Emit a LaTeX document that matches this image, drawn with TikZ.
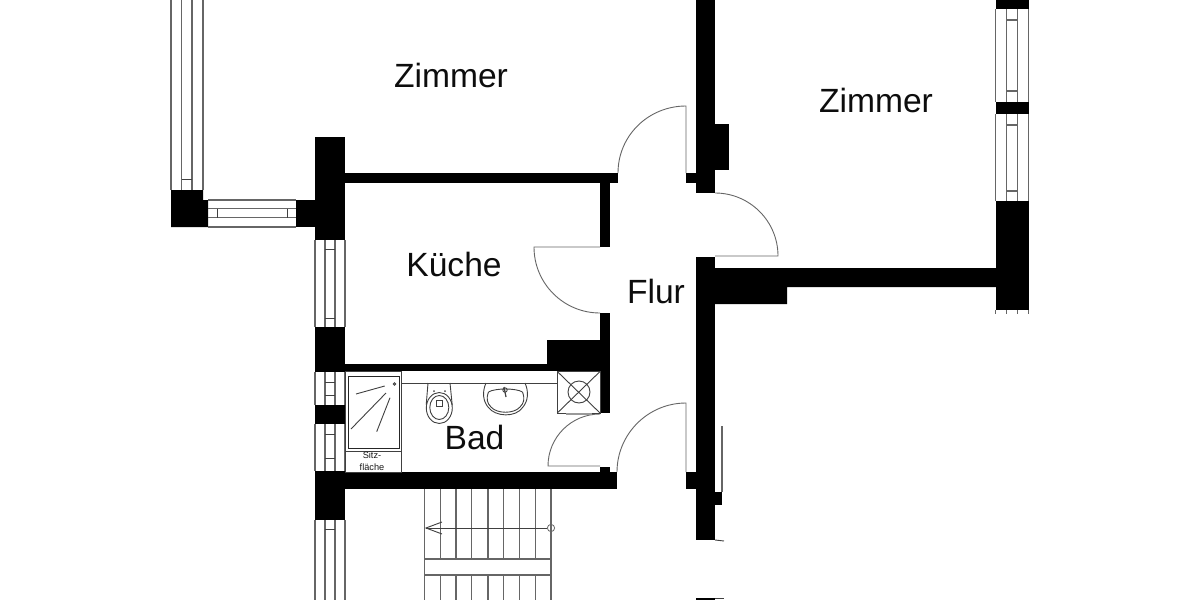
\documentclass[tikz,border=0pt]{standalone}
\usepackage{fontspec}
\setmainfont{Liberation Sans}
\tikzset{
  wall/.style={fill=black,draw=none},
  thin line/.style={draw=black!60,line width=0.55pt},
  fine line/.style={draw=black!75,line width=0.45pt},
  door/.style={draw=black!60,line width=0.45pt},
  room/.style={font=\fontsize{16.8}{18}\selectfont,text=black!95,inner sep=0pt},
  tiny label/.style={font=\fontsize{4.6}{5}\selectfont,text=black!90,inner sep=0pt,align=center},
}
\begin{document}
\begin{tikzpicture}[x=0.5pt,y=-0.5pt]
\path[use as bounding box,fill=white] (0,0) rectangle (1200,600);
\begin{scope}
\clip (0,0) rectangle (1200,600);
% ---------- solid walls
\fill[wall] (171,190) -- (203,190) -- (203,200) -- (208,200) -- (208,227) -- (171,227) -- cycle;
\fill[wall] (296,200) rectangle (316,227);
\fill[wall] (315,137) rectangle (345,240);
\fill[wall] (345,173) rectangle (618,183);
\fill[wall] (600,183) rectangle (610,247);
\fill[wall] (600,313) rectangle (609.5,413);
\fill[wall] (547,340) rectangle (601,364);
\fill[wall] (345,364) rectangle (601,371);
\fill[wall] (315,327) rectangle (345,372);
\fill[wall] (315,405) rectangle (345,424);
\fill[wall] (315,471) rectangle (345,520);
\fill[wall] (345,472) rectangle (617,489);
\fill[wall] (600,467) rectangle (609.5,473);
\fill[wall] (696,0) rectangle (715,193);
\fill[wall] (714,124) rectangle (729,170);
\fill[wall] (686,173) rectangle (697,183);
\fill[wall] (696,257) rectangle (715,540);
\fill[wall] (714,268) -- (996,268) -- (996,287) -- (787,287) -- (787,304) -- (714,304) -- cycle;
\fill[wall] (995.5,201) rectangle (1029,310);
\fill[wall] (995.5,0) rectangle (1029,9);
\fill[wall] (995.5,102) rectangle (1029,114);
\fill[wall] (686,472) rectangle (697,489);
\fill[wall] (714,492) rectangle (722,505);
\fill[wall] (696,598) rectangle (715,600);
% ---------- windows: left room, vertical
\foreach \x in {171,181.5,192,203} \draw[thin line] (\x,0) -- (\x,190);
\draw[fine line] (181.5,179) -- (192,179);
% ---------- window: left room, horizontal
\foreach \y in {200,208.5,217.5,227} \draw[thin line] (208,\y) -- (296,\y);
\foreach \x in {217,287.5} \draw[fine line] (\x,208.5) -- (\x,217.5);
% ---------- window: kitchen
\foreach \x in {315,325,335,345} {
  \draw[thin line] (\x,240) -- (\x,327);
  \draw[thin line] (\x,372) -- (\x,405);
  \draw[thin line] (\x,424) -- (\x,471);
  \draw[thin line] (\x,520) -- (\x,600);
}
\foreach \y in {249,318,382,395,434,458,529} \draw[fine line] (325,\y) -- (335,\y);
% ---------- window: right room
\foreach \x in {995.5,1006.5,1017.5,1028.7} {
  \draw[thin line] (\x,9) -- (\x,102);
  \draw[thin line] (\x,114) -- (\x,201);
  \draw[thin line] (\x,310) -- (\x,314);
}
\foreach \y in {20,91,125,191} \draw[thin line] (1006.5,\y) -- (1017.5,\y);
% ---------- doors
\draw[door] (686,173) -- (686,106) .. controls (648.5,106) and (618,135.5) .. (618,173);
\draw[door] (715,193) .. controls (749.8,193) and (778,221.2) .. (778,256) -- (715,256);
\draw[door] (600,313) .. controls (563.6,313) and (534,283.6) .. (534,247) -- (600,247);
\draw[door] (600,414) .. controls (571.3,414) and (548,437.3) .. (548,466) -- (600,466);
\draw[door] (686,472) -- (686,403) .. controls (648,403) and (617,434) .. (617,472);
% ---------- right thin lines
\draw[thin line] (722,426) -- (722,492);
\draw[fine line] (715,540) -- (724,541);
\draw[fine line] (715,598.5) -- (724,598.5);
% ---------- bathroom fittings
\draw[fine line] (345,371) rectangle (401.5,472);
\draw[fine line] (345,451) -- (401.5,451);
\draw[fine line] (401.5,383) -- (557,383);
\draw[draw=black!85,line width=0.5pt] (348,376) rectangle (399,448);
\draw[fine line] (394.5,384) circle[radius=1.3];
\draw[fine line] (356,394) -- (384.7,386);
\draw[fine line] (351,429) -- (386,393);
\draw[fine line] (376.7,431.7) -- (390,397.7);
\node[tiny label] (seat1) at (372,455.5) {Sitz-};
\node[tiny label] (seat2) at (372,467) {fläche};
% toilet
\draw[fine line] (428,383) -- (426.2,405);
\draw[fine line] (450,383) -- (452.2,405);
\draw[fine line] (439.3,408) ellipse[x radius=13,y radius=15.5];
\draw[fine line] (439.3,407.5) ellipse[x radius=9.5,y radius=12];
\draw[fine line] (436,400) rectangle (442.5,406.5);
\fill[black!70] (434,391) circle[radius=1];
\fill[black!70] (445,391) circle[radius=1];
% basin
\draw[fine line] (486,383) .. controls (482,392) and (483,401) .. (488,407) .. controls (495,417) and (516,418) .. (523,407) .. controls (528,401) and (529,392) .. (525,383);
\draw[fine line] (488.5,392) .. controls (486,399) and (487,403) .. (491,407) .. controls (497,414) and (514,414) .. (520,407) .. controls (524,403) and (525,399) .. (522.5,392);
\draw[fine line] (488.5,392) .. controls (495,388) and (516,388) .. (522.5,392);
\draw[draw=black!75,line width=0.6pt] (504,387) -- (506,397);
\draw[fine line] (505,390) circle[radius=2.2];
% shaft
\draw[fine line,fill=white] (557.3,371.5) rectangle (600,413);
\draw[fine line] (557.3,371.5) -- (600,413);
\draw[fine line] (600,371.5) -- (557.3,413);
\draw[fine line] (579,392) circle[radius=11];
\draw[draw=black!40,line width=0.9pt] (566,414) -- (592,414);
% ---------- stairs
\foreach \x in {440.3,456,471.5,488,503.5,519.5,535.5} {
  \draw[thin line] (\x,489) -- (\x,559);
  \draw[thin line] (\x,575) -- (\x,600);
}
\draw[thin line] (424.3,489) -- (424.3,600);
\draw[thin line] (551,489) -- (551,600);
\draw[thin line] (424.3,559) -- (551,559);
\draw[thin line] (424.3,575) -- (551,575);
\coordinate (runend) at (426,528);
\node[circle,draw=black!60,line width=0.4pt,minimum size=3.6pt,inner sep=0pt] (runstart) at (551,528) {};
\draw[fine line] (runstart) -- (runend);
\draw[fine line] (442,522) -- (runend) -- (442,534);
% ---------- labels
\node[room] (zimmerA) at (451,75) {Zimmer};
\node[room] (zimmerB) at (876,100) {Zimmer};
\node[room] (kueche) at (454,264) {Küche};
\node[room] (flur) at (656,291) {Flur};
\node[room] (bad) at (474.5,437) {Bad};
\end{scope}
\end{tikzpicture}
\end{document}
